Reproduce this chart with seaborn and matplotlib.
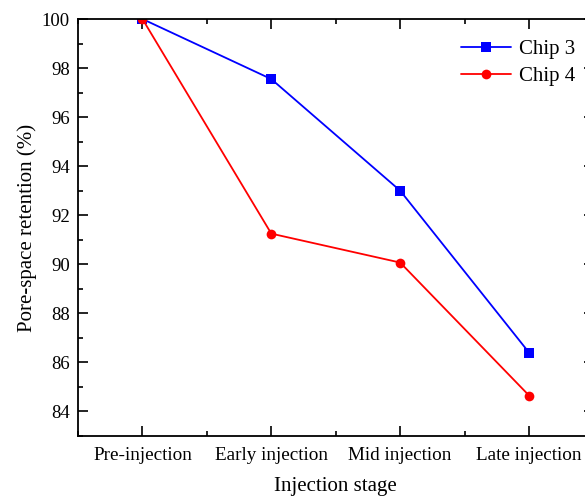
import matplotlib
matplotlib.use("Agg")
import matplotlib.pyplot as plt
import seaborn as sns
import pandas as pd
from matplotlib.ticker import MultipleLocator

stages = ["Pre-injection", "Early injection", "Mid injection", "Late injection"]
chip3 = [100.0, 97.55, 93.0, 86.4]
chip4 = [100.0, 91.25, 90.07, 84.65]

df = pd.DataFrame({
    "stage": stages * 2,
    "value": chip3 + chip4,
    "chip": ["Chip 3"] * 4 + ["Chip 4"] * 4,
})

sns.set_style("ticks")
plt.rcParams["font.family"] = ["Liberation Serif", "DejaVu Serif"]
plt.rcParams["text.color"] = "black"
plt.rcParams["axes.labelcolor"] = "black"
plt.rcParams["xtick.color"] = "black"
plt.rcParams["ytick.color"] = "black"

fig = plt.figure(figsize=(5.85, 4.98), dpi=100)
W, H = 585, 498
left, right, top, bottom = 78, 593.5, 19, 436
ax = fig.add_axes([left / W, (H - bottom) / H, (right - left) / W, (bottom - top) / H])

sns.lineplot(data=df, x="stage", y="value", hue="chip", style="chip",
             markers={"Chip 3": "s", "Chip 4": "o"}, dashes=False,
             palette={"Chip 3": "#0000ff", "Chip 4": "#ff0000"},
             sort=False, ax=ax, linewidth=1.3, markersize=7,
             markeredgewidth=0)

ax.set_xlim(-0.5, 3.5)
ax.set_ylim(83, 100)
ax.set_xticks(range(len(stages)))
ax.set_xticklabels(stages)
ax.xaxis.set_minor_locator(MultipleLocator(0.5))
ax.yaxis.set_major_locator(MultipleLocator(2))
ax.yaxis.set_minor_locator(MultipleLocator(1))

for s in ax.spines.values():
    s.set_linewidth(1.3)
    s.set_color("black")
ax.tick_params(which="both", direction="in", top=True, right=True, width=1.2,
               colors="black")
ax.tick_params(axis="y", labelsize=13.5, pad=6)
ax.tick_params(axis="x", labelsize=13.8, pad=8)
ax.tick_params(which="major", length=7)
ax.tick_params(which="minor", length=3.5)

ax.set_xlabel("Injection stage", fontsize=15, labelpad=9)
ax.set_ylabel("Pore-space retention (%)", fontsize=15, labelpad=3)

leg = ax.legend(loc="upper right", bbox_to_anchor=((584 - left) / (right - left), 0.97),
                frameon=False, fontsize=15, handlelength=2.4, handletextpad=0.4,
                labelspacing=0.35, borderaxespad=0)

fig.savefig("out.png", dpi=100)
